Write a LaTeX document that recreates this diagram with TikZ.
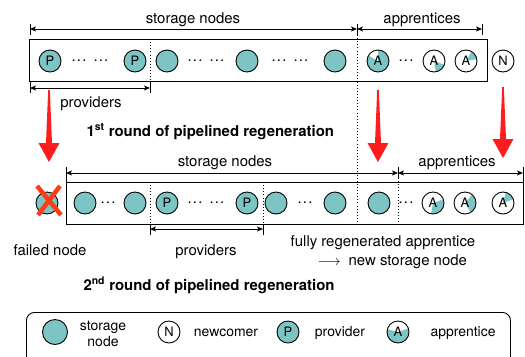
\documentclass[tikz,border=0pt]{standalone}
\usepackage{fontspec}
\setmainfont{TeX Gyre Heros}
\usetikzlibrary{arrows.meta}
\definecolor{tealfill}{RGB}{125,197,197}
\definecolor{arrowred}{RGB}{255,28,28}
\definecolor{crossred}{RGB}{255,60,20}
% apprentice: name, x, y, start angle, end angle, radius
\newcommand\apprnode[6]{%
  \fill[tealfill] (#2,#3) -- ++(#4:#6) arc[start angle=#4, end angle=#5, radius=#6] -- cycle;
  \node[anode] (#1) at (#2,#3) {A};}
% red arrow: x, ytop, ytip
\newcommand\redarrow[3]{%
  \fill[arrowred] (#1-0.8,#2) -- (#1+0.8,#2) -- (#1+3,#3-19) -- (#1+10.5,#3-19) -- (#1,#3)
     -- (#1-10.5,#3-19) -- (#1-3,#3-19) -- cycle;}
\newcommand\tdots{.\kern1.2bp.\kern1.2bp.}
\begin{document}
\begin{tikzpicture}[x=1bp,y=-1bp,
  every node/.style={font=\fontsize{15}{17}\selectfont},
  circ/.style={circle,draw,line width=0.9bp,minimum size=22bp,inner sep=0pt,
               font=\fontsize{13}{13}\selectfont},
  snode/.style={circ,fill=tealfill},
  pnode/.style={circ,fill=tealfill},
  nnode/.style={circ,fill=white},
  anode/.style={circ},
  rowbox/.style={draw,line width=0.9bp,inner sep=0pt,anchor=north west},
  dim/.style={line width=0.8bp,{Stealth[length=6bp,width=5bp,inset=1.5bp]}-{Stealth[length=6bp,width=5bp,inset=1.5bp]}},
  tick/.style={line width=0.8bp},
  sep/.style={line width=0.8bp,dash pattern=on 0.9bp off 2.2bp},
  dotsn/.style={font=\fontsize{15}{15}\selectfont,inner sep=0pt},
  lbl/.style={anchor=base},
  bold/.style={anchor=base west,font=\fontsize{15}{17}\selectfont\bfseries},
  legtext/.style={font=\fontsize{14}{16}\selectfont,align=center}
]
\useasboundingbox (0,0) rectangle (525,356);
\clip (0,0) rectangle (525,356);

%================ first row ================
\node[rowbox,minimum width=458bp,minimum height=42bp] (box1) at (29,39) {};
\node[pnode] (p11) at (50,61) {P};
\node[pnode] (p12) at (135,61) {P};
\node[snode] (s11) at (167,61) {};
\node[snode] (s12) at (247,61) {};
\node[snode] (s13) at (335,61) {};
\apprnode{a11}{378}{61}{150}{450}{11bp}
\apprnode{a12}{434}{61}{-80}{-20}{11bp}
\apprnode{a13}{466}{61}{10}{60}{11bp}
\node[nnode] (n11) at (503,61) {N};
\node[dotsn] (d11) at (90,61) {\tdots\hspace{7bp}\tdots};
\node[dotsn] (d12) at (206,61) {\tdots\hspace{7bp}\tdots};
\node[dotsn] (d13) at (290,61) {\tdots\hspace{7bp}\tdots};
\node[dotsn] (d14) at (406,61) {\tdots};

% separators and dimension lines
\coordinate (q1) at (150,39); \coordinate (q2) at (150,81);
\draw[sep] (q1) -- (q2);
\coordinate (v1) at (357,35); \coordinate (v2) at (357,224);
\draw[sep] (v1) -- (v2);
\coordinate (t1a) at (30,24); \coordinate (t1b) at (30,35);
\coordinate (t2a) at (357,24); \coordinate (t2b) at (357,35);
\coordinate (t3a) at (482,24); \coordinate (t3b) at (482,35);
\draw[tick] (t1a) -- (t1b); \draw[tick] (t2a) -- (t2b); \draw[tick] (t3a) -- (t3b);
\coordinate (e1) at (30,29); \coordinate (e2) at (357,29); \coordinate (e3) at (482,29);
\draw[dim] (e1) -- (e2);
\draw[dim] (e2) -- (e3);
\coordinate (t4a) at (30,81); \coordinate (t4b) at (30,93);
\coordinate (t5a) at (150,81); \coordinate (t5b) at (150,93);
\draw[tick] (t4a) -- (t4b); \draw[tick] (t5a) -- (t5b);
\coordinate (e4) at (30,88); \coordinate (e5) at (150,88);
\draw[dim] (e4) -- (e5);

\node[lbl] (lsn1) at (193,23) {storage nodes};
\node[lbl] (lap1) at (422,23) {apprentices};
\node[lbl] (lpr1) at (91,107) {providers};
\node[bold] (lr1) at (83,136) {1\textsuperscript{st} round of pipelined regeneration};

% red arrows
\redarrow{49}{90}{162}
\redarrow{378}{90}{162}
\redarrow{503}{87}{158}

%================ second row ================
\node[rowbox,minimum width=457bp,minimum height=42bp] (box2) at (66,182) {};
\node[snode] (f21) at (47,203) {};
\coordinate (x1) at (37,186); \coordinate (x2) at (61,215);
\coordinate (x3) at (60,186); \coordinate (x4) at (38,215);
\draw[crossred,line width=4.5bp] (x1) -- (x2);
\draw[crossred,line width=4.5bp] (x3) -- (x4);
\node[snode] (s21) at (85,203) {};
\node[snode] (s22) at (135,203) {};
\node[pnode] (p21) at (167,203) {P};
\node[pnode] (p22) at (247,203) {P};
\node[snode] (s23) at (276,203) {};
\node[snode] (s24) at (335,203) {};
\node[snode] (s25) at (379,203) {};
\apprnode{a21}{433}{203}{-100}{20}{11bp}
\apprnode{a22}{465}{203}{-60}{50}{11bp}
\apprnode{a23}{503}{203}{20}{75}{11bp}
\node[dotsn] (d21) at (108,203) {\tdots};
\node[dotsn] (d22) at (206,203) {\tdots\hspace{7bp}\tdots};
\node[dotsn] (d23) at (305,203) {\tdots};
\node[dotsn] (d24) at (406,203) {\tdots};

\coordinate (w1) at (150,182); \coordinate (w2) at (150,224);
\coordinate (w3) at (263,182); \coordinate (w4) at (263,224);
\coordinate (w5) at (398,178); \coordinate (w6) at (398,224);
\draw[sep] (w1) -- (w2); \draw[sep] (w3) -- (w4); \draw[sep] (w5) -- (w6);
\coordinate (u1a) at (66,167); \coordinate (u1b) at (66,182);
\coordinate (u2a) at (398,167); \coordinate (u2b) at (398,178);
\coordinate (u3a) at (523,167); \coordinate (u3b) at (523,182);
\draw[tick] (u1a) -- (u1b); \draw[tick] (u2a) -- (u2b); \draw[tick] (u3a) -- (u3b);
\coordinate (g1) at (66,173); \coordinate (g2) at (398,173); \coordinate (g3) at (523,173);
\draw[dim] (g1) -- (g2);
\draw[dim] (g2) -- (g3);
\coordinate (u4a) at (150,224); \coordinate (u4b) at (150,235);
\coordinate (u5a) at (263,224); \coordinate (u5b) at (263,235);
\draw[tick] (u4a) -- (u4b); \draw[tick] (u5a) -- (u5b);
\coordinate (g4) at (150,229); \coordinate (g5) at (263,229);
\draw[dim] (g4) -- (g5);

\node[lbl] (lsn2) at (225,166) {storage nodes};
\node[lbl] (lap2) at (457,166) {apprentices};
\node[lbl] (lfn) at (50,255) {failed node};
\node[lbl] (lpr2) at (206,255) {providers};
\node[lbl] (lfr) at (383,246) {fully regenerated apprentice};
\node[anchor=base west] (lns) at (314,265) {$\longrightarrow$\hspace{8bp}new storage node};
\node[bold] (lr2) at (80,290) {2\textsuperscript{nd} round of pipelined regeneration};

%================ legend ================
\node[draw,line width=0.9bp,rounded corners=8bp,minimum width=484bp,minimum height=55bp,
      inner sep=0pt,anchor=north west] (legend) at (26,312) {};
\node[snode,minimum size=25bp] (ls) at (55,332) {};
\node[legtext] (lst) at (103,334) {storage\\node};
\node[nnode] (ln) at (169,332) {N};
\node[legtext,anchor=base] (lnt) at (226,336) {newcomer};
\node[pnode] (lp) at (288,332) {P};
\node[legtext,anchor=base] (lpt) at (340,336) {provider};
\apprnode{la}{398}{332}{165}{380}{11bp}
\node[legtext,anchor=base] (lat) at (463,336) {apprentice};
\end{tikzpicture}
\end{document}
